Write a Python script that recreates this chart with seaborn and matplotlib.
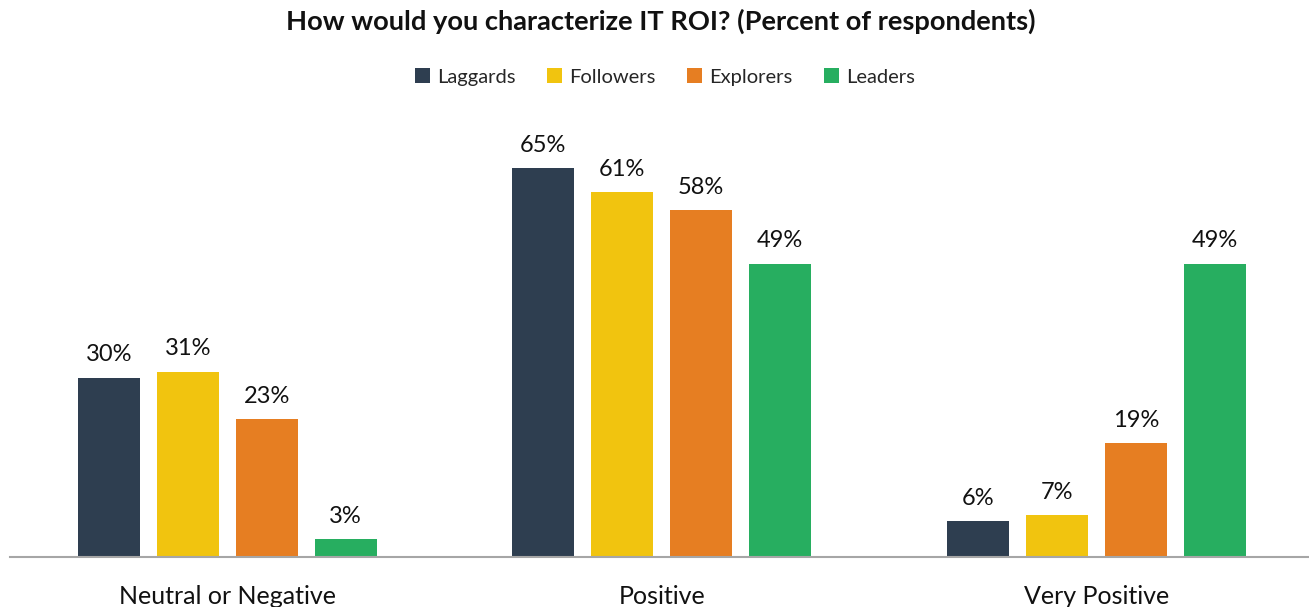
import matplotlib
matplotlib.use("Agg")
import matplotlib.pyplot as plt
import seaborn as sns
import pandas as pd

categories = ["Neutral or Negative", "Positive", "Very Positive"]
groups = ["Laggards", "Followers", "Explorers", "Leaders"]
laggards = [30, 65, 6]
followers = [31, 61, 7]
explorers = [23, 58, 19]
leaders = [3, 49, 49]
colors = ["#2E3E50", "#F1C40F", "#E67E22", "#27AE60"]

sns.set_theme(style="white")
plt.rcParams["font.family"] = ["Lato", "DejaVu Sans"]

rows = []
for g, vals in zip(groups, [laggards, followers, explorers, leaders]):
    for c, v in zip(categories, vals):
        rows.append({"category": c, "group": g, "value": v})
df = pd.DataFrame(rows)

fig = plt.figure(figsize=(13.09, 6.07), dpi=100)
ax = fig.add_axes([10 / 1309, 1 - 557 / 607, 1303.5 / 1309, 448.5 / 607])

sns.barplot(data=df, x="category", y="value", hue="group", order=categories,
            hue_order=groups, palette=colors, width=0.727, gap=0.215,
            saturation=1, linewidth=0, ax=ax, legend=True)

for cont in ax.containers:
    ax.bar_label(cont, fmt="%d%%", padding=9, fontsize=17, color="#111111")

ax.set_xlim(-0.5, 2.5)
ax.set_ylim(0, 75)
ax.set_xlabel("")
ax.set_ylabel("")
ax.set_yticks([])
ax.tick_params(axis="x", length=0, pad=20, labelsize=18, labelcolor="#111111")
for s in ["top", "left", "right"]:
    ax.spines[s].set_visible(False)
ax.spines["bottom"].set_color("#A6A6A6")
ax.spines["bottom"].set_linewidth(1.5)

handles, labels = ax.get_legend_handles_labels()
ax.legend(handles, labels, loc="center", bbox_to_anchor=(0.508, 1 - 77 / 607),
          bbox_transform=fig.transFigure, ncol=4, frameon=False, fontsize=14.5,
          handlelength=0.75, handleheight=0.75, handletextpad=0.35,
          columnspacing=1.55)

fig.text(0.505, 1 - 21 / 607, "How would you characterize IT ROI? (Percent of respondents)",
         ha="center", va="center", fontsize=19.6, fontweight="bold", color="#111111")

fig.savefig("out.png", dpi=100)
